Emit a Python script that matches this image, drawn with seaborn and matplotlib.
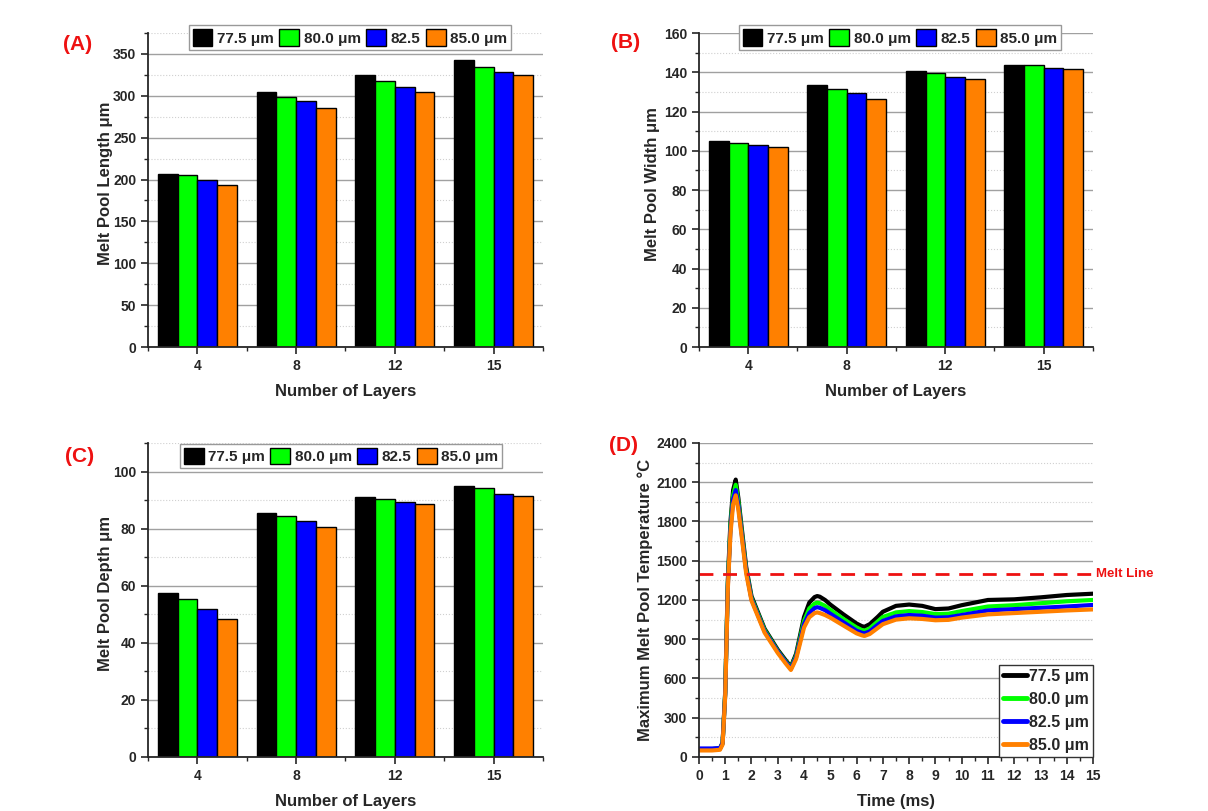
import matplotlib
matplotlib.use('Agg')
import matplotlib.pyplot as plt
from matplotlib.ticker import MultipleLocator, FixedLocator
from matplotlib.patches import Patch
from matplotlib.lines import Line2D
import pandas as pd
import seaborn as sns

# categories / series
layers = ['4', '8', '12', '15']
bar_labels = ['77.5 μm', '80.0 μm', '82.5', '85.0 μm']
line_labels = ['77.5 μm', '80.0 μm', '82.5 μm', '85.0 μm']
colors = ['#000000', '#00ff00', '#0000ff', '#ff8000']

# melt pool length (um), one row per hatch spacing
length_vals = [
    [207, 304, 325, 343],
    [205, 299, 318, 334],
    [200, 294, 310, 328],
    [194, 286, 305, 325],
]
# melt pool width (um)
width_vals = [
    [105.2, 133.5, 140.8, 143.6],
    [103.8, 131.5, 139.7, 143.5],
    [102.7, 129.4, 137.5, 142.3],
    [101.9, 126.3, 136.7, 141.8],
]
# melt pool depth (um)
depth_vals = [
    [57.3, 85.6, 91.1, 94.8],
    [55.5, 84.3, 90.5, 94.1],
    [51.9, 82.8, 89.3, 92.1],
    [48.5, 80.6, 88.6, 91.4],
]

# max melt pool temperature vs time
time_ms = [0, 0.5, 0.8, 0.9, 1.0, 1.1, 1.2, 1.3, 1.4, 1.5, 1.6, 1.8, 2.0, 2.5, 3.0, 3.3,
           3.5, 3.7, 4.0, 4.2, 4.4, 4.5, 4.6, 4.8, 5.0, 5.5, 6.0, 6.2, 6.3, 6.5, 6.8, 7.0,
           7.5, 8.0, 8.5, 9.0, 9.5, 10, 11, 12, 13, 14, 15]
temp_775 = [60, 60, 65, 110, 500, 1350, 1800, 2040, 2120, 1980, 1800, 1450, 1230, 980, 820, 740,
            690, 790, 1070, 1180, 1222, 1230, 1225, 1200, 1165, 1090, 1020, 1000, 995, 1015, 1070, 1110,
            1155, 1165, 1155, 1130, 1135, 1160, 1200, 1205, 1220, 1238, 1248]
temp_800 = [60, 60, 65, 105, 490, 1330, 1770, 2000, 2080, 1950, 1770, 1430, 1215, 970, 810, 730,
            682, 775, 1040, 1135, 1172, 1180, 1175, 1155, 1125, 1055, 990, 970, 965, 983, 1035, 1070,
            1105, 1115, 1108, 1092, 1095, 1115, 1150, 1160, 1175, 1190, 1200]
temp_825 = [65, 65, 68, 105, 480, 1310, 1740, 1970, 2040, 1920, 1750, 1420, 1205, 960, 805, 725,
            675, 765, 1015, 1100, 1138, 1145, 1140, 1122, 1095, 1030, 965, 950, 945, 960, 1010, 1040,
            1075, 1085, 1080, 1065, 1068, 1085, 1120, 1130, 1140, 1150, 1162]
temp_850 = [50, 50, 55, 95, 470, 1290, 1710, 1930, 2000, 1890, 1730, 1400, 1195, 950, 795, 715,
            665, 750, 990, 1068, 1100, 1105, 1100, 1085, 1065, 1005, 945, 930, 925, 940, 985, 1015,
            1050, 1060, 1055, 1045, 1048, 1065, 1090, 1100, 1110, 1120, 1128]
melt_temp = 1400

sns.set_style('ticks')
plt.rcParams['font.family'] = ['Liberation Sans', 'DejaVu Sans']
plt.rcParams['font.weight'] = 'bold'
plt.rcParams['axes.labelweight'] = 'bold'
plt.rcParams['axes.linewidth'] = 1.3


def bar_frame(vals):
    rows = []
    for lab, series in zip(bar_labels, vals):
        for layer, v in zip(layers, series):
            rows.append({'layer': layer, 'spacing': lab, 'value': v})
    return pd.DataFrame(rows)


def style_axis(ax, major, minor):
    ax.yaxis.set_major_locator(MultipleLocator(major))
    ax.yaxis.set_minor_locator(MultipleLocator(minor))
    ax.grid(which='major', axis='y', color='#a0a0a0', lw=1.0, ls='-')
    ax.grid(which='minor', axis='y', color='#d0d0d0', lw=0.8, ls=':')
    ax.set_axisbelow(True)
    ax.tick_params(which='major', direction='out', length=5, width=1.2, labelsize=10)
    ax.tick_params(which='minor', direction='out', length=3, width=1.0)
    sns.despine(ax=ax)


def bar_panel(ax, vals, ylabel, ymax, major, minor, leg_center, lab_x):
    df = bar_frame(vals)
    sns.barplot(data=df, x='layer', y='value', hue='spacing', order=layers,
                hue_order=bar_labels, palette=colors, edgecolor='black',
                linewidth=1.0, width=0.8, saturation=1, ax=ax, legend=False)
    ax.set_xlim(-0.5, 3.5)
    ax.set_ylim(0, ymax)
    style_axis(ax, major, minor)
    ax.xaxis.set_minor_locator(FixedLocator([-0.5, 0.5, 1.5, 2.5, 3.5]))
    ax.set_xlabel('Number of Layers', fontsize=12, labelpad=8)
    ax.set_ylabel(ylabel, fontsize=12)
    ax.yaxis.set_label_coords(lab_x, 0.52)
    handles = [Patch(facecolor=c, edgecolor='black', lw=1.0) for c in colors]
    ax.legend(handles, bar_labels, ncol=4, loc='center', bbox_to_anchor=leg_center,
              bbox_transform=fig.transFigure, fontsize=11, frameon=True,
              edgecolor='#999999', fancybox=False, framealpha=1,
              handlelength=1.3, handleheight=1.3, handletextpad=0.3,
              columnspacing=0.35, borderpad=0.25, borderaxespad=0)


fig = plt.figure(figsize=(12.08, 8.11), dpi=100)
axA = fig.add_axes([0.1225, 0.5721, 0.3270, 0.3872])
axB = fig.add_axes([0.5786, 0.5721, 0.3262, 0.3872])
axC = fig.add_axes([0.1225, 0.0666, 0.3270, 0.3872])
axD = fig.add_axes([0.5786, 0.0666, 0.3262, 0.3872])

bar_panel(axA, length_vals, 'Melt Pool Length μm', 375, 50, 25, (0.2897, 0.9538), -0.089)
bar_panel(axB, width_vals, 'Melt Pool Width μm', 160, 20, 10, (0.745, 0.9538), -0.10)
bar_panel(axC, depth_vals, 'Melt Pool Depth μm', 110, 20, 10, (0.2823, 0.4377), -0.089)

# temperature panel
temps = [temp_775, temp_800, temp_825, temp_850]
rows = []
for lab, series in zip(line_labels, temps):
    for t, v in zip(time_ms, series):
        rows.append({'time': t, 'temp': v, 'spacing': lab})
tdf = pd.DataFrame(rows)
sns.lineplot(data=tdf, x='time', y='temp', hue='spacing', hue_order=line_labels,
             palette=colors, lw=3, ax=axD, legend=False)
axD.axhline(melt_temp, color='#ee1111', ls=(0, (5, 3.5)), lw=2)
axD.text(1.008, melt_temp, 'Melt Line', color='#ee1111', fontsize=9.5, fontweight='bold',
         ha='left', va='center', transform=axD.get_yaxis_transform(), clip_on=False)
axD.set_xlim(0, 15)
axD.set_ylim(0, 2400)
style_axis(axD, 300, 150)
axD.xaxis.set_major_locator(MultipleLocator(1))
axD.xaxis.set_minor_locator(MultipleLocator(0.5))
axD.set_xlabel('Time (ms)', fontsize=12, labelpad=8)
axD.set_ylabel('Maximum Melt Pool Temperature °C', fontsize=12)
axD.yaxis.set_label_coords(-0.117, 0.5)
lh = [Line2D([0], [0], color=c, lw=3.5) for c in colors]
axD.legend(lh, line_labels, loc='lower right', fontsize=11.5, frameon=True,
           edgecolor='#333333', fancybox=False, framealpha=1, handlelength=1.5,
           handletextpad=0.15, borderpad=0.25, labelspacing=0.5, borderaxespad=0)

for ax, lab, xy in [(axA, '(A)', (0.052, 0.945)), (axB, '(B)', (0.506, 0.948)),
                    (axC, '(C)', (0.054, 0.437)), (axD, '(D)', (0.504, 0.451))]:
    fig.text(xy[0], xy[1], lab, color='#ee1111', fontsize=15, fontweight='bold',
             ha='left', va='center')

fig.savefig('out.png', dpi=100)
